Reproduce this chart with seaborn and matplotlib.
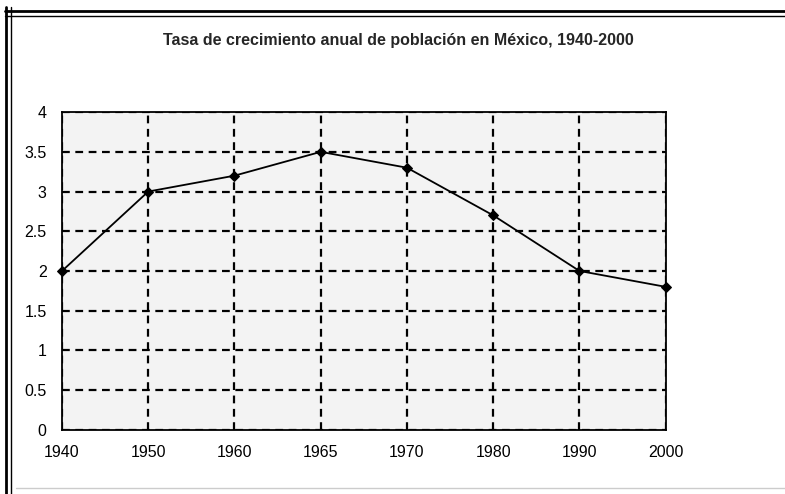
import matplotlib
matplotlib.use("Agg")
import matplotlib.pyplot as plt
import seaborn as sns
import pandas as pd
from matplotlib.lines import Line2D

# Data
years = ["1940", "1950", "1960", "1965", "1970", "1980", "1990", "2000"]
rates = [2.0, 3.0, 3.2, 3.5, 3.3, 2.7, 2.0, 1.8]
y_ticks = [0, 0.5, 1, 1.5, 2, 2.5, 3, 3.5, 4]
y_labels = ["0", "0.5", "1", "1.5", "2", "2.5", "3", "3.5", "4"]

df = pd.DataFrame({"pos": range(len(years)), "tasa": rates})

sns.set_style("white")
plt.rcParams["font.family"] = ["Liberation Sans", "DejaVu Sans"]

fig = plt.figure(figsize=(7.85, 4.94), dpi=100)
ax = fig.add_axes([0.079, 0.130, 0.769, 0.643])
ax.set_facecolor("#f3f3f3")

sns.lineplot(data=df, x="pos", y="tasa", ax=ax, color="black", lw=1.3,
             marker="D", markersize=5.5, markeredgecolor="black", zorder=5,
             clip_on=False)

ax.set_xlim(0, len(years) - 1)
ax.set_ylim(0, 4)
ax.set_xticks(range(len(years)))
ax.set_xticklabels(years, fontsize=11.5)
ax.set_yticks(y_ticks)
ax.set_yticklabels(y_labels, fontsize=11.5)
ax.tick_params(axis="both", length=4, width=1.2, color="black", direction="out", pad=7)
ax.tick_params(axis="both", labelcolor="black")

ax.grid(True, color="black", linestyle=(0, (3.5, 2.5)), lw=1.6)
for s in ax.spines.values():
    s.set_color("black")
    s.set_linewidth(1.3)

ax.set_xlabel("")
ax.set_ylabel("")

fig.text(0.507, 0.918, "Tasa de crecimiento anual de población en México, 1940-2000",
         ha="center", va="center", fontsize=11.5, fontweight="bold")

# double frame around the whole chart
for xx, lw in [(0.008, 2.0), (0.014, 1.0)]:
    fig.add_artist(Line2D([xx, xx], [0.0, 0.985], color="black", lw=lw, transform=fig.transFigure))
for yy, lw in [(0.978, 2.0), (0.968, 1.0)]:
    fig.add_artist(Line2D([0.006, 1.0], [yy, yy], color="black", lw=lw, transform=fig.transFigure))
fig.add_artist(Line2D([0.02, 1.0], [0.012, 0.012], color="#cccccc", lw=1.0, transform=fig.transFigure))

plt.savefig("out.png", dpi=100)
